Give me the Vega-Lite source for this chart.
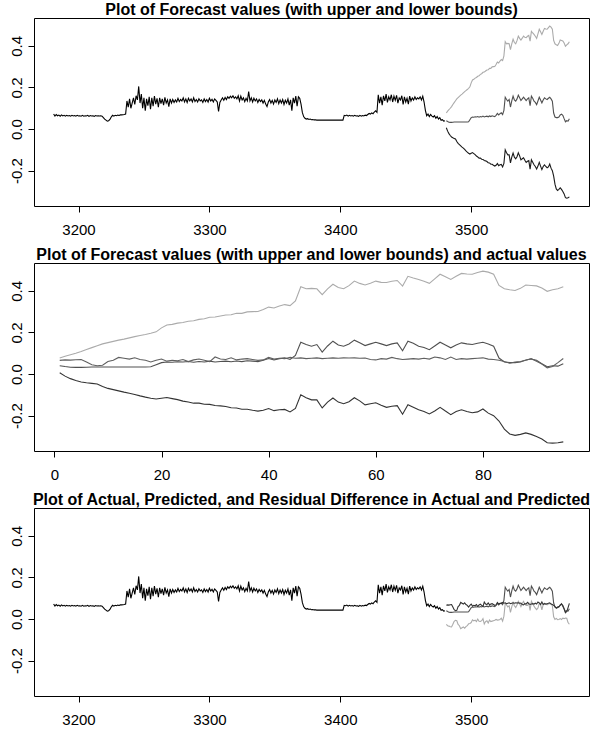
{
  "$schema": "https://vega.github.io/schema/vega-lite/v6.json",
  "background": "white",
  "padding": {"left": 8, "top": 1, "right": 0, "bottom": 0},
  "spacing": 57,
  "bounds": "flush",
  "config": {
    "view": {"stroke": "black", "strokeWidth": 1},
    "font": "Liberation Sans",
    "axis": {"domain": false, "grid": false, "tickColor": "black", "tickSize": 6, "labelColor": "black", "labelFont": "Liberation Sans", "labelFontSize": 15, "title": null},
    "axisX": {"labelPadding": 10.5, "format": "d"},
    "axisY": {"labelAngle": 270, "labelAlign": "center", "labelBaseline": "alphabetic", "labelPadding": 7, "values": [-0.2, 0, 0.2, 0.4], "labelExpr": "replace(format(datum.value,'.1f'),'\u2212','-')"},
    "title": {"font": "Liberation Sans", "fontSize": 16, "fontWeight": "bold", "color": "black", "anchor": "middle", "offset": 0.5, "baseline": "alphabetic"},
    "line": {"strokeWidth": 1.1}
  },
  "datasets": {
    "obs": [
      {"t":3181,"v":0.072},{"t":3182,"v":0.062},{"t":3183,"v":0.070},{"t":3184,"v":0.064},{"t":3185,"v":0.067},{"t":3186,"v":0.062},{"t":3187,"v":0.068},{"t":3188,"v":0.063},{"t":3189,"v":0.066},{"t":3190,"v":0.062},
      {"t":3191,"v":0.066},{"t":3192,"v":0.063},{"t":3193,"v":0.065},{"t":3194,"v":0.062},{"t":3195,"v":0.066},{"t":3196,"v":0.063},{"t":3197,"v":0.065},{"t":3198,"v":0.062},{"t":3199,"v":0.066},{"t":3200,"v":0.063},
      {"t":3201,"v":0.064},{"t":3202,"v":0.062},{"t":3203,"v":0.066},{"t":3204,"v":0.062},{"t":3205,"v":0.064},{"t":3206,"v":0.063},{"t":3207,"v":0.066},{"t":3208,"v":0.061},{"t":3209,"v":0.065},{"t":3210,"v":0.063},
      {"t":3211,"v":0.064},{"t":3212,"v":0.061},{"t":3213,"v":0.065},{"t":3214,"v":0.063},{"t":3215,"v":0.064},{"t":3216,"v":0.063},{"t":3217,"v":0.064},{"t":3218,"v":0.062},{"t":3219,"v":0.055},{"t":3220,"v":0.048},
      {"t":3221,"v":0.043},{"t":3222,"v":0.038},{"t":3223,"v":0.040},{"t":3224,"v":0.046},{"t":3225,"v":0.058},{"t":3226,"v":0.066},{"t":3227,"v":0.062},{"t":3228,"v":0.066},{"t":3229,"v":0.064},{"t":3230,"v":0.067},
      {"t":3231,"v":0.065},{"t":3232,"v":0.068},{"t":3233,"v":0.068},{"t":3234,"v":0.069},{"t":3235,"v":0.070},{"t":3236,"v":0.072},{"t":3237,"v":0.135},{"t":3238,"v":0.105},{"t":3239,"v":0.145},{"t":3240,"v":0.100},
      {"t":3241,"v":0.125},{"t":3242,"v":0.150},{"t":3243,"v":0.118},{"t":3244,"v":0.160},{"t":3245,"v":0.140},{"t":3246,"v":0.205},{"t":3247,"v":0.125},{"t":3248,"v":0.168},{"t":3249,"v":0.100},{"t":3250,"v":0.150},
      {"t":3251,"v":0.088},{"t":3252,"v":0.145},{"t":3253,"v":0.112},{"t":3254,"v":0.155},{"t":3255,"v":0.095},{"t":3256,"v":0.150},{"t":3257,"v":0.110},{"t":3258,"v":0.158},{"t":3259,"v":0.120},{"t":3260,"v":0.148},
      {"t":3261,"v":0.105},{"t":3262,"v":0.150},{"t":3263,"v":0.122},{"t":3264,"v":0.145},{"t":3265,"v":0.115},{"t":3266,"v":0.152},{"t":3267,"v":0.125},{"t":3268,"v":0.140},{"t":3269,"v":0.108},{"t":3270,"v":0.145},
      {"t":3271,"v":0.125},{"t":3272,"v":0.142},{"t":3273,"v":0.128},{"t":3274,"v":0.140},{"t":3275,"v":0.130},{"t":3276,"v":0.148},{"t":3277,"v":0.132},{"t":3278,"v":0.142},{"t":3279,"v":0.135},{"t":3280,"v":0.150},
      {"t":3281,"v":0.130},{"t":3282,"v":0.145},{"t":3283,"v":0.128},{"t":3284,"v":0.148},{"t":3285,"v":0.135},{"t":3286,"v":0.145},{"t":3287,"v":0.130},{"t":3288,"v":0.150},{"t":3289,"v":0.132},{"t":3290,"v":0.142},
      {"t":3291,"v":0.130},{"t":3292,"v":0.146},{"t":3293,"v":0.135},{"t":3294,"v":0.140},{"t":3295,"v":0.128},{"t":3296,"v":0.145},{"t":3297,"v":0.132},{"t":3298,"v":0.142},{"t":3299,"v":0.130},{"t":3300,"v":0.148},
      {"t":3301,"v":0.135},{"t":3302,"v":0.143},{"t":3303,"v":0.130},{"t":3304,"v":0.145},{"t":3305,"v":0.138},{"t":3306,"v":0.130},{"t":3307,"v":0.085},{"t":3308,"v":0.128},{"t":3309,"v":0.140},{"t":3310,"v":0.150},
      {"t":3311,"v":0.138},{"t":3312,"v":0.152},{"t":3313,"v":0.142},{"t":3314,"v":0.155},{"t":3315,"v":0.148},{"t":3316,"v":0.158},{"t":3317,"v":0.150},{"t":3318,"v":0.160},{"t":3319,"v":0.148},{"t":3320,"v":0.155},
      {"t":3321,"v":0.145},{"t":3322,"v":0.160},{"t":3323,"v":0.135},{"t":3324,"v":0.158},{"t":3325,"v":0.140},{"t":3326,"v":0.150},{"t":3327,"v":0.132},{"t":3328,"v":0.148},{"t":3329,"v":0.135},{"t":3330,"v":0.180},
      {"t":3331,"v":0.135},{"t":3332,"v":0.150},{"t":3333,"v":0.130},{"t":3334,"v":0.148},{"t":3335,"v":0.135},{"t":3336,"v":0.145},{"t":3337,"v":0.128},{"t":3338,"v":0.142},{"t":3339,"v":0.132},{"t":3340,"v":0.140},
      {"t":3341,"v":0.125},{"t":3342,"v":0.138},{"t":3343,"v":0.120},{"t":3344,"v":0.108},{"t":3345,"v":0.130},{"t":3346,"v":0.142},{"t":3347,"v":0.125},{"t":3348,"v":0.138},{"t":3349,"v":0.120},{"t":3350,"v":0.140},
      {"t":3351,"v":0.128},{"t":3352,"v":0.145},{"t":3353,"v":0.122},{"t":3354,"v":0.140},{"t":3355,"v":0.125},{"t":3356,"v":0.142},{"t":3357,"v":0.118},{"t":3358,"v":0.138},{"t":3359,"v":0.125},{"t":3360,"v":0.145},
      {"t":3361,"v":0.115},{"t":3362,"v":0.140},{"t":3363,"v":0.088},{"t":3364,"v":0.150},{"t":3365,"v":0.125},{"t":3366,"v":0.158},{"t":3367,"v":0.110},{"t":3368,"v":0.155},{"t":3369,"v":0.148},{"t":3370,"v":0.120},
      {"t":3371,"v":0.080},{"t":3372,"v":0.060},{"t":3373,"v":0.052},{"t":3374,"v":0.048},{"t":3375,"v":0.050},{"t":3376,"v":0.046},{"t":3377,"v":0.048},{"t":3378,"v":0.045},{"t":3379,"v":0.046},{"t":3380,"v":0.044},
      {"t":3381,"v":0.045},{"t":3382,"v":0.043},{"t":3383,"v":0.043},{"t":3384,"v":0.043},{"t":3385,"v":0.043},{"t":3386,"v":0.043},{"t":3387,"v":0.043},{"t":3388,"v":0.043},{"t":3389,"v":0.043},{"t":3390,"v":0.043},
      {"t":3391,"v":0.043},{"t":3392,"v":0.043},{"t":3393,"v":0.043},{"t":3394,"v":0.043},{"t":3395,"v":0.043},{"t":3396,"v":0.043},{"t":3397,"v":0.043},{"t":3398,"v":0.043},{"t":3399,"v":0.043},{"t":3400,"v":0.043},
      {"t":3401,"v":0.043},{"t":3402,"v":0.043},{"t":3403,"v":0.066},{"t":3404,"v":0.064},{"t":3405,"v":0.067},{"t":3406,"v":0.062},{"t":3407,"v":0.066},{"t":3408,"v":0.063},{"t":3409,"v":0.065},{"t":3410,"v":0.062},
      {"t":3411,"v":0.066},{"t":3412,"v":0.063},{"t":3413,"v":0.064},{"t":3414,"v":0.061},{"t":3415,"v":0.066},{"t":3416,"v":0.062},{"t":3417,"v":0.065},{"t":3418,"v":0.063},{"t":3419,"v":0.067},{"t":3420,"v":0.065},
      {"t":3421,"v":0.070},{"t":3422,"v":0.075},{"t":3423,"v":0.072},{"t":3424,"v":0.078},{"t":3425,"v":0.074},{"t":3426,"v":0.082},{"t":3427,"v":0.088},{"t":3428,"v":0.080},{"t":3429,"v":0.165},{"t":3430,"v":0.125},
      {"t":3431,"v":0.155},{"t":3432,"v":0.115},{"t":3433,"v":0.160},{"t":3434,"v":0.135},{"t":3435,"v":0.168},{"t":3436,"v":0.128},{"t":3437,"v":0.155},{"t":3438,"v":0.140},{"t":3439,"v":0.165},{"t":3440,"v":0.130},
      {"t":3441,"v":0.158},{"t":3442,"v":0.138},{"t":3443,"v":0.162},{"t":3444,"v":0.125},{"t":3445,"v":0.150},{"t":3446,"v":0.140},{"t":3447,"v":0.160},{"t":3448,"v":0.118},{"t":3449,"v":0.155},{"t":3450,"v":0.130},
      {"t":3451,"v":0.148},{"t":3452,"v":0.120},{"t":3453,"v":0.158},{"t":3454,"v":0.135},{"t":3455,"v":0.150},{"t":3456,"v":0.140},{"t":3457,"v":0.155},{"t":3458,"v":0.142},{"t":3459,"v":0.150},{"t":3460,"v":0.145},
      {"t":3461,"v":0.155},{"t":3462,"v":0.140},{"t":3463,"v":0.158},{"t":3464,"v":0.130},{"t":3465,"v":0.090},{"t":3466,"v":0.064},{"t":3467,"v":0.072},{"t":3468,"v":0.060},{"t":3469,"v":0.070},{"t":3470,"v":0.062},
      {"t":3471,"v":0.058},{"t":3472,"v":0.064},{"t":3473,"v":0.052},{"t":3474,"v":0.060},{"t":3475,"v":0.048},{"t":3476,"v":0.055},{"t":3477,"v":0.042},{"t":3478,"v":0.045},{"t":3479,"v":0.038},{"t":3480,"v":0.040}
    ],
    "fc": [
      {"i":1,"t":3481,"fc":0.040,"hi":0.077,"lo":0.006,"act":0.066,"res":-0.026},
      {"i":2,"t":3482,"fc":0.036,"hi":0.086,"lo":-0.010,"act":0.068,"res":-0.032},
      {"i":3,"t":3483,"fc":0.033,"hi":0.093,"lo":-0.022,"act":0.067,"res":-0.034},
      {"i":4,"t":3484,"fc":0.032,"hi":0.100,"lo":-0.031,"act":0.069,"res":-0.037},
      {"i":5,"t":3485,"fc":0.032,"hi":0.108,"lo":-0.038,"act":0.070,"res":-0.038},
      {"i":6,"t":3486,"fc":0.033,"hi":0.118,"lo":-0.042,"act":0.058,"res":-0.025},
      {"i":7,"t":3487,"fc":0.034,"hi":0.127,"lo":-0.045,"act":0.045,"res":-0.011},
      {"i":8,"t":3488,"fc":0.034,"hi":0.136,"lo":-0.048,"act":0.040,"res":-0.006},
      {"i":9,"t":3489,"fc":0.034,"hi":0.145,"lo":-0.060,"act":0.042,"res":-0.008},
      {"i":10,"t":3490,"fc":0.034,"hi":0.151,"lo":-0.069,"act":0.060,"res":-0.026},
      {"i":11,"t":3491,"fc":0.034,"hi":0.157,"lo":-0.075,"act":0.066,"res":-0.032},
      {"i":12,"t":3492,"fc":0.034,"hi":0.163,"lo":-0.081,"act":0.080,"res":-0.046},
      {"i":13,"t":3493,"fc":0.034,"hi":0.168,"lo":-0.087,"act":0.076,"res":-0.042},
      {"i":14,"t":3494,"fc":0.034,"hi":0.174,"lo":-0.092,"act":0.072,"res":-0.038},
      {"i":15,"t":3495,"fc":0.034,"hi":0.180,"lo":-0.098,"act":0.078,"res":-0.044},
      {"i":16,"t":3496,"fc":0.034,"hi":0.185,"lo":-0.105,"act":0.070,"res":-0.036},
      {"i":17,"t":3497,"fc":0.034,"hi":0.190,"lo":-0.111,"act":0.066,"res":-0.032},
      {"i":18,"t":3498,"fc":0.035,"hi":0.196,"lo":-0.116,"act":0.058,"res":-0.023},
      {"i":19,"t":3499,"fc":0.045,"hi":0.203,"lo":-0.120,"act":0.066,"res":-0.021},
      {"i":20,"t":3500,"fc":0.055,"hi":0.222,"lo":-0.116,"act":0.072,"res":-0.017},
      {"i":21,"t":3501,"fc":0.058,"hi":0.236,"lo":-0.113,"act":0.062,"res":-0.004},
      {"i":22,"t":3502,"fc":0.057,"hi":0.239,"lo":-0.118,"act":0.066,"res":-0.009},
      {"i":23,"t":3503,"fc":0.059,"hi":0.245,"lo":-0.123,"act":0.064,"res":-0.005},
      {"i":24,"t":3504,"fc":0.058,"hi":0.248,"lo":-0.130,"act":0.070,"res":-0.012},
      {"i":25,"t":3505,"fc":0.060,"hi":0.254,"lo":-0.134,"act":0.060,"res":0.000},
      {"i":26,"t":3506,"fc":0.057,"hi":0.256,"lo":-0.140,"act":0.068,"res":-0.011},
      {"i":27,"t":3507,"fc":0.060,"hi":0.263,"lo":-0.140,"act":0.072,"res":-0.012},
      {"i":28,"t":3508,"fc":0.058,"hi":0.266,"lo":-0.145,"act":0.066,"res":-0.008},
      {"i":29,"t":3509,"fc":0.062,"hi":0.273,"lo":-0.146,"act":0.060,"res":0.002},
      {"i":30,"t":3510,"fc":0.058,"hi":0.274,"lo":-0.151,"act":0.082,"res":-0.024},
      {"i":31,"t":3511,"fc":0.060,"hi":0.279,"lo":-0.153,"act":0.072,"res":-0.012},
      {"i":32,"t":3512,"fc":0.062,"hi":0.284,"lo":-0.156,"act":0.070,"res":-0.008},
      {"i":33,"t":3513,"fc":0.059,"hi":0.285,"lo":-0.162,"act":0.078,"res":-0.019},
      {"i":34,"t":3514,"fc":0.063,"hi":0.292,"lo":-0.163,"act":0.068,"res":-0.005},
      {"i":35,"t":3515,"fc":0.060,"hi":0.292,"lo":-0.169,"act":0.072,"res":-0.012},
      {"i":36,"t":3516,"fc":0.064,"hi":0.299,"lo":-0.169,"act":0.074,"res":-0.010},
      {"i":37,"t":3517,"fc":0.062,"hi":0.300,"lo":-0.174,"act":0.070,"res":-0.008},
      {"i":38,"t":3518,"fc":0.060,"hi":0.301,"lo":-0.178,"act":0.066,"res":-0.006},
      {"i":39,"t":3519,"fc":0.066,"hi":0.310,"lo":-0.174,"act":0.068,"res":-0.002},
      {"i":40,"t":3520,"fc":0.075,"hi":0.322,"lo":-0.166,"act":0.080,"res":-0.005},
      {"i":41,"t":3521,"fc":0.068,"hi":0.318,"lo":-0.176,"act":0.072,"res":-0.004},
      {"i":42,"t":3522,"fc":0.074,"hi":0.327,"lo":-0.172,"act":0.076,"res":-0.002},
      {"i":43,"t":3523,"fc":0.078,"hi":0.334,"lo":-0.170,"act":0.074,"res":0.004},
      {"i":44,"t":3524,"fc":0.070,"hi":0.329,"lo":-0.182,"act":0.080,"res":-0.010},
      {"i":45,"t":3525,"fc":0.090,"hi":0.352,"lo":-0.165,"act":0.076,"res":0.014},
      {"i":46,"t":3526,"fc":0.153,"hi":0.420,"lo":-0.100,"act":0.078,"res":0.075},
      {"i":47,"t":3527,"fc":0.142,"hi":0.410,"lo":-0.114,"act":0.074,"res":0.068},
      {"i":48,"t":3528,"fc":0.134,"hi":0.412,"lo":-0.124,"act":0.076,"res":0.058},
      {"i":49,"t":3529,"fc":0.142,"hi":0.410,"lo":-0.124,"act":0.078,"res":0.064},
      {"i":50,"t":3530,"fc":0.106,"hi":0.382,"lo":-0.163,"act":0.074,"res":0.032},
      {"i":51,"t":3531,"fc":0.135,"hi":0.410,"lo":-0.135,"act":0.076,"res":0.059},
      {"i":52,"t":3532,"fc":0.158,"hi":0.432,"lo":-0.115,"act":0.078,"res":0.080},
      {"i":53,"t":3533,"fc":0.140,"hi":0.416,"lo":-0.135,"act":0.076,"res":0.064},
      {"i":54,"t":3534,"fc":0.134,"hi":0.410,"lo":-0.143,"act":0.078,"res":0.056},
      {"i":55,"t":3535,"fc":0.145,"hi":0.425,"lo":-0.133,"act":0.077,"res":0.068},
      {"i":56,"t":3536,"fc":0.163,"hi":0.447,"lo":-0.114,"act":0.078,"res":0.085},
      {"i":57,"t":3537,"fc":0.150,"hi":0.436,"lo":-0.129,"act":0.076,"res":0.074},
      {"i":58,"t":3538,"fc":0.137,"hi":0.428,"lo":-0.148,"act":0.077,"res":0.060},
      {"i":59,"t":3539,"fc":0.145,"hi":0.437,"lo":-0.143,"act":0.070,"res":0.075},
      {"i":60,"t":3540,"fc":0.153,"hi":0.447,"lo":-0.138,"act":0.068,"res":0.085},
      {"i":61,"t":3541,"fc":0.145,"hi":0.441,"lo":-0.150,"act":0.074,"res":0.071},
      {"i":62,"t":3542,"fc":0.137,"hi":0.440,"lo":-0.160,"act":0.072,"res":0.065},
      {"i":63,"t":3543,"fc":0.145,"hi":0.446,"lo":-0.155,"act":0.080,"res":0.065},
      {"i":64,"t":3544,"fc":0.150,"hi":0.450,"lo":-0.152,"act":0.074,"res":0.076},
      {"i":65,"t":3545,"fc":0.112,"hi":0.423,"lo":-0.193,"act":0.070,"res":0.042},
      {"i":66,"t":3546,"fc":0.158,"hi":0.470,"lo":-0.148,"act":0.072,"res":0.086},
      {"i":67,"t":3547,"fc":0.148,"hi":0.462,"lo":-0.160,"act":0.074,"res":0.074},
      {"i":68,"t":3548,"fc":0.134,"hi":0.455,"lo":-0.172,"act":0.072,"res":0.062},
      {"i":69,"t":3549,"fc":0.128,"hi":0.446,"lo":-0.180,"act":0.076,"res":0.052},
      {"i":70,"t":3550,"fc":0.117,"hi":0.436,"lo":-0.192,"act":0.072,"res":0.045},
      {"i":71,"t":3551,"fc":0.135,"hi":0.458,"lo":-0.178,"act":0.082,"res":0.053},
      {"i":72,"t":3552,"fc":0.153,"hi":0.480,"lo":-0.160,"act":0.078,"res":0.075},
      {"i":73,"t":3553,"fc":0.140,"hi":0.468,"lo":-0.178,"act":0.070,"res":0.070},
      {"i":74,"t":3554,"fc":0.126,"hi":0.455,"lo":-0.195,"act":0.082,"res":0.044},
      {"i":75,"t":3555,"fc":0.140,"hi":0.470,"lo":-0.180,"act":0.070,"res":0.070},
      {"i":76,"t":3556,"fc":0.150,"hi":0.484,"lo":-0.172,"act":0.074,"res":0.076},
      {"i":77,"t":3557,"fc":0.145,"hi":0.481,"lo":-0.180,"act":0.072,"res":0.073},
      {"i":78,"t":3558,"fc":0.142,"hi":0.480,"lo":-0.186,"act":0.074,"res":0.068},
      {"i":79,"t":3559,"fc":0.148,"hi":0.488,"lo":-0.182,"act":0.076,"res":0.072},
      {"i":80,"t":3560,"fc":0.153,"hi":0.495,"lo":-0.168,"act":0.078,"res":0.075},
      {"i":81,"t":3561,"fc":0.145,"hi":0.490,"lo":-0.188,"act":0.072,"res":0.073},
      {"i":82,"t":3562,"fc":0.134,"hi":0.480,"lo":-0.200,"act":0.070,"res":0.064},
      {"i":83,"t":3563,"fc":0.077,"hi":0.426,"lo":-0.226,"act":0.066,"res":0.011},
      {"i":84,"t":3564,"fc":0.058,"hi":0.410,"lo":-0.265,"act":0.060,"res":-0.002},
      {"i":85,"t":3565,"fc":0.055,"hi":0.405,"lo":-0.288,"act":0.052,"res":0.003},
      {"i":86,"t":3566,"fc":0.055,"hi":0.402,"lo":-0.295,"act":0.058,"res":-0.003},
      {"i":87,"t":3567,"fc":0.058,"hi":0.412,"lo":-0.290,"act":0.060,"res":-0.002},
      {"i":88,"t":3568,"fc":0.068,"hi":0.428,"lo":-0.283,"act":0.066,"res":0.002},
      {"i":89,"t":3569,"fc":0.072,"hi":0.426,"lo":-0.290,"act":0.074,"res":-0.002},
      {"i":90,"t":3570,"fc":0.066,"hi":0.424,"lo":-0.300,"act":0.062,"res":0.004},
      {"i":91,"t":3571,"fc":0.050,"hi":0.414,"lo":-0.312,"act":0.048,"res":0.002},
      {"i":92,"t":3572,"fc":0.035,"hi":0.398,"lo":-0.330,"act":0.030,"res":0.005},
      {"i":93,"t":3573,"fc":0.040,"hi":0.405,"lo":-0.332,"act":0.036,"res":0.004},
      {"i":94,"t":3574,"fc":0.038,"hi":0.410,"lo":-0.330,"act":0.055,"res":-0.017},
      {"i":95,"t":3575,"fc":0.050,"hi":0.420,"lo":-0.326,"act":0.075,"res":-0.025}
    ]
  },
  "vconcat": [
    {
      "width": 555, "height": 188,
      "title": {"text": "Plot of Forecast values (with upper and lower bounds)"},
      "layer": [
        {"data": {"name": "obs"}, "mark": {"type": "line", "color": "black"},
         "encoding": {"x": {"field": "t", "type": "quantitative", "scale": {"domain": [3166, 3590], "nice": false, "zero": false}, "axis": {"values": [3200, 3300, 3400, 3500]}},
                      "y": {"field": "v", "type": "quantitative", "scale": {"domain": [-0.37, 0.534], "nice": false, "zero": false}}}},
        {"data": {"name": "fc"}, "mark": {"type": "line", "color": "#ababab"},
         "encoding": {"x": {"field": "t", "type": "quantitative"}, "y": {"field": "hi", "type": "quantitative"}}},
        {"data": {"name": "fc"}, "mark": {"type": "line", "color": "#505050"},
         "encoding": {"x": {"field": "t", "type": "quantitative"}, "y": {"field": "fc", "type": "quantitative"}}},
        {"data": {"name": "fc"}, "mark": {"type": "line", "color": "#1a1a1a"},
         "encoding": {"x": {"field": "t", "type": "quantitative"}, "y": {"field": "lo", "type": "quantitative"}}}
      ]
    },
    {
      "width": 555, "height": 188,
      "title": {"text": "Plot of Forecast values (with upper and lower bounds) and actual values"},
      "data": {"name": "fc"},
      "layer": [
        {"mark": {"type": "line", "color": "#ababab"},
         "encoding": {"x": {"field": "i", "type": "quantitative", "scale": {"domain": [-3.8, 99.8], "nice": false, "zero": false}, "axis": {"values": [0, 20, 40, 60, 80]}},
                      "y": {"field": "hi", "type": "quantitative", "scale": {"domain": [-0.37, 0.534], "nice": false, "zero": false}}}},
        {"mark": {"type": "line", "color": "#333333"},
         "encoding": {"x": {"field": "i", "type": "quantitative"}, "y": {"field": "lo", "type": "quantitative"}}},
        {"mark": {"type": "line", "color": "#505050"},
         "encoding": {"x": {"field": "i", "type": "quantitative"}, "y": {"field": "fc", "type": "quantitative"}}},
        {"mark": {"type": "line", "color": "#606060"},
         "encoding": {"x": {"field": "i", "type": "quantitative"}, "y": {"field": "act", "type": "quantitative"}}}
      ]
    },
    {
      "width": 555, "height": 188,
      "title": {"text": "Plot of Actual, Predicted, and Residual Difference in Actual and Predicted"},
      "layer": [
        {"data": {"name": "obs"}, "mark": {"type": "line", "color": "black"},
         "encoding": {"x": {"field": "t", "type": "quantitative", "scale": {"domain": [3166, 3590], "nice": false, "zero": false}, "axis": {"values": [3200, 3300, 3400, 3500]}},
                      "y": {"field": "v", "type": "quantitative", "scale": {"domain": [-0.37, 0.534], "nice": false, "zero": false}}}},
        {"data": {"name": "fc"}, "mark": {"type": "line", "color": "#ababab"},
         "encoding": {"x": {"field": "t", "type": "quantitative"}, "y": {"field": "res", "type": "quantitative"}}},
        {"data": {"name": "fc"}, "mark": {"type": "line", "color": "#505050"},
         "encoding": {"x": {"field": "t", "type": "quantitative"}, "y": {"field": "fc", "type": "quantitative"}}},
        {"data": {"name": "fc"}, "mark": {"type": "line", "color": "#333333"},
         "encoding": {"x": {"field": "t", "type": "quantitative"}, "y": {"field": "act", "type": "quantitative"}}}
      ]
    }
  ]
}
